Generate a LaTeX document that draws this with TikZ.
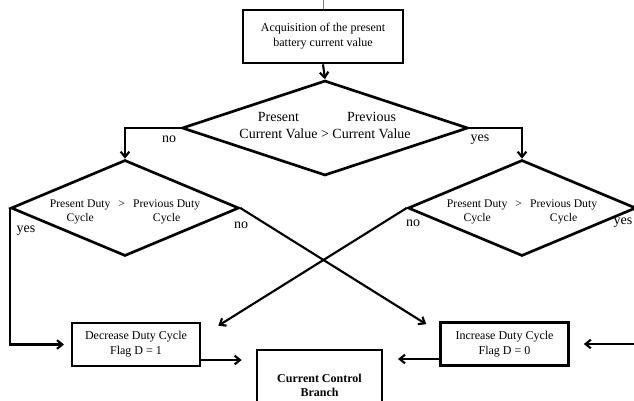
\documentclass[tikz,border=0pt]{standalone}
\usepackage{fontspec}
\setmainfont{Liberation Serif}
\usetikzlibrary{shapes.geometric,arrows.meta,calc}

\tikzset{
  block/.style={draw, line width=2pt, rectangle, inner sep=0pt, align=center,
    font=\fontsize{9}{11.25}\selectfont},
  decision/.style={draw, line width=2pt, diamond, inner sep=0pt},
  flow/.style={line width=1.6pt, ->},
  answer/.style={font=\fontsize{10.5}{12}\selectfont},
}

\begin{document}
\begin{tikzpicture}[x=0.75pt, y=-0.75pt, >={Straight Barb[length=4pt,width=6.5pt]}]
  \useasboundingbox (0,0) rectangle (634,400);

  %% boxes
  \coordinate (start) at (323,0);
  \node [block, minimum width=120pt, minimum height=39.75pt] (acq) at (323,36.5)
    {Acquisition of the present\\battery current value};
  \node [block, minimum width=96pt, minimum height=32.25pt] (dec) at (136,344.5)
    {Decrease Duty Cycle\\Flag D = 1};
  \node [block, minimum width=96pt, minimum height=32.25pt] (inc) at (504.5,344)
    {Increase Duty Cycle\\Flag D = 0};
  \node [block, minimum width=93.75pt, minimum height=52.5pt, font=\bfseries\fontsize{9}{10.5}\selectfont]
    (ccb) at (319.5,385) {Current Control\\Branch};

  %% decisions
  \node [decision, aspect=3, minimum width=214.5pt, minimum height=71.25pt,
    font=\fontsize{10.5}{12.75}\selectfont] (cmp) at (325,128)
    {\raisebox{1pt}[\height][\depth]{\begin{tabular}{@{}c@{\ }c@{\ }c@{}}
      Present & & Previous\\ Current Value & > & Current Value
    \end{tabular}}};
  \foreach \side/\x in {dl/125, dr/522}
    \node [decision, aspect=2.375, minimum width=171pt, minimum height=72pt,
      font=\fontsize{8.75}{10.5}\selectfont] (\side) at (\x,208)
      {\raisebox{-3pt}[\height][\depth]{\begin{tabular}{@{}c@{\hspace{6pt}}c@{\hspace{6pt}}c@{}}
        Present Duty & \raisebox{-.5\baselineskip}{>} & Previous Duty\\ Cycle & & Cycle
      \end{tabular}}};

  %% answers
  \node [answer] (cmpno) at (169,139) {no};
  \node [answer] (cmpyes) at (480,140) {yes};
  \node [answer] (dlyes) at (26,231) {yes};
  \node [answer] (dlno) at (241,225) {no};
  \node [answer] (drno) at (413,223) {no};
  \node [answer] (dryes) at (623,223) {yes};

  %% connectors
  \draw [gray, thin] (start) -- (acq.north);
  \draw [flow] (acq.south) -- (cmp.north);
  \draw [flow] (cmp.west) -| (dl.north);
  \draw [flow] (cmp.east) -| (dr.north);
  \draw [flow, shorten >=5pt] (dl.west) |- (dec.west);
  \draw [flow, shorten >=10.5pt] (dr.east) -- ++(5,0) |- (inc.east);
  \draw [flow] (dl.east) -- ($(inc.north west)+(-13,3)$);
  \draw [flow] (dr.west) -- ($(dec.north east)+(17,4)$);

  \coordinate (decout) at ($(dec.east)+(0,15.5)$);
  \coordinate (incout) at ($(inc.west)+(0,15)$);
  \draw [flow, shorten >=10.5pt] (decout) -- (decout -| ccb.west);
  \draw [flow, shorten >=11pt] (incout) -- (incout -| ccb.east);

\end{tikzpicture}
\end{document}
